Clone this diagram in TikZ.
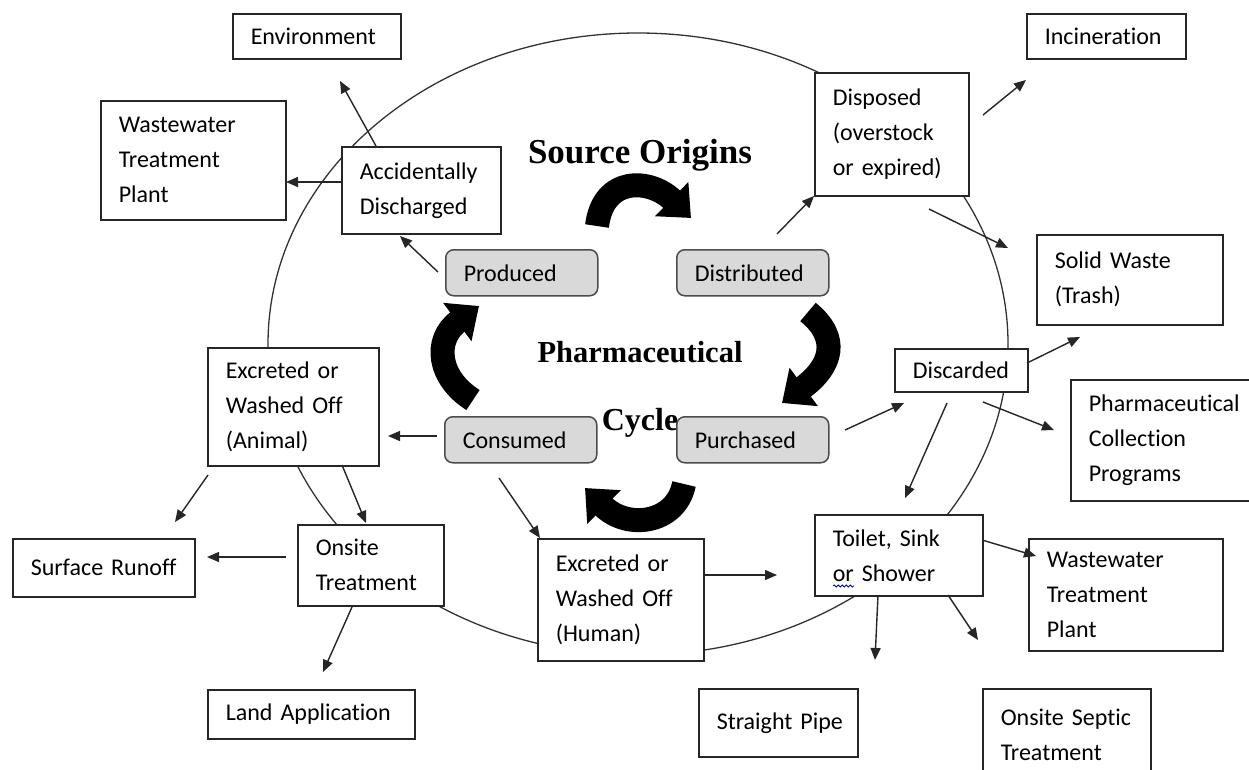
\documentclass[tikz,border=0pt]{standalone}
\usepackage{fontspec}
\setmainfont{Carlito}[Ligatures=NoCommon]
\newfontfamily\tnr{Liberation Serif}
\usetikzlibrary{arrows.meta,decorations.pathmorphing}
\tikzset{
  box/.style={draw=black!85, fill=white, line width=1.5pt, anchor=north west, align=left,
    inner xsep=18pt, inner ysep=0pt, font=\fontsize{24}{35}\selectfont},
  gbox/.style={draw=black!70, fill=gray!30, rounded corners=8pt, line width=1.5pt,
    anchor=north west, align=left, inner xsep=18pt, inner ysep=0pt,
    minimum height=46pt, text width=116pt, font=\fontsize{24}{35}\selectfont},
  arr/.style={draw=black!85, line width=1.4pt, -{Triangle[length=12pt,width=10pt]}},
  blk/.style={draw=black, line width=24pt, -{Triangle[length=27pt,width=46pt]}},
  title/.style={font=\tnr\bfseries, anchor=base, inner sep=0pt},
}
\begin{document}
\begin{tikzpicture}[x=1pt,y=-1pt]
\useasboundingbox[fill=white] (0,0) rectangle (1249,769);
% big cycle ellipse
\draw[line width=1.3pt, black!80] (638,344) ellipse [x radius=370, y radius=311];

% titles
\node[title, font=\tnr\bfseries\fontsize{35}{38}\selectfont] (src) at (640,163) {Source Origins};
\node[title, font=\tnr\bfseries\fontsize{30.5}{34}\selectfont] (pha) at (640,362) {Pharmaceutical};
\node[title, font=\tnr\bfseries\fontsize{32}{34}\selectfont] (cyc) at (640,430) {Cycle};

% grey cycle boxes
\node[gbox] (prod) at (445,249) {Produced};
\node[gbox] (dist) at (676,249) {Distributed};
\node[gbox] (purch) at (676,416) {Purchased};
\node[gbox] (cons) at (444,416) {Consumed};

% white boxes
\node[box, text width=132pt, minimum height=45pt] (env) at (232,13) {Environment};
\node[box, text width=149pt, minimum height=119pt] (wwtpL) at (100,100) {Wastewater\\Treatment\\Plant};
\node[box, text width=123pt, minimum height=87pt] (acc) at (341,146) {Accidentally\\Discharged};
\node[box, text width=123pt, minimum height=45pt] (inc) at (1026,13) {Incineration};
\node[box, text width=118pt, minimum height=123pt] (disp) at (814,72) {Disposed\\(overstock\\or~expired)};
\node[box, text width=150pt, minimum height=90pt] (solid) at (1036,234) {Solid~Waste\\(Trash)};
\node[box, text width=97pt, minimum height=43pt] (disc) at (894,348) {Discarded};
\node[box, text width=144pt, minimum height=121pt] (pcp) at (1070,379) {Pharmaceutical\\Collection\\Programs};
\node[box, text width=132pt, minimum height=81pt] (toilet) at (814,514) {Toilet,~Sink\\or~Shower};
\node[box, text width=158pt, minimum height=112pt] (wwtpR) at (1028,538) {Wastewater\\Treatment\\Plant};
\node[box, text width=123pt, minimum height=68pt] (pipe) at (698,688) {Straight~Pipe};
\node[box, text width=132pt, minimum height=92pt] (septic) at (982,688) {Onsite~Septic\\Treatment};
\node[box, text width=130pt, minimum height=122pt] (human) at (537,538) {Excreted~or\\Washed~Off\\(Human)};
\node[box, text width=110pt, minimum height=81pt] (onsite) at (297,524) {Onsite\\Treatment};
\node[box, text width=146pt, minimum height=58pt] (surf) at (12,538) {Surface~Runoff};
\node[box, text width=171pt, minimum height=49pt] (land) at (207,689) {Land~Application};
\node[box, text width=135pt, minimum height=118pt] (animal) at (207,347) {Excreted~or\\Washed~Off\\(Animal)};

% spell-check squiggle under "or"
\draw[blue!70!black, line width=0.8pt, decorate, decoration={snake, amplitude=1pt, segment length=4pt}] (833,586) -- (854,586);

% curved block arrows of the cycle
\coordinate (b1s) at (597,226); \coordinate (b1e) at (691,218);
\draw[blk] (b1s) .. controls (603,176) and (650,178) .. (b1e);
\coordinate (b2s) at (808,312); \coordinate (b2e) at (782,403);
\draw[blk] (b2s) .. controls (840,338) and (832,366) .. (b2e);
\coordinate (b3s) at (684,484); \coordinate (b3e) at (585,488);
\draw[blk] (b3s) .. controls (676,524) and (627,530) .. (b3e);
\coordinate (b4s) at (473,400); \coordinate (b4e) at (479,306);
\draw[blk] (b4s) .. controls (438,378) and (433,340) .. (b4e);

% thin arrows
\coordinate (a1) at (438,272); \coordinate (a1t) at (400,236);
\draw[arr] (a1) -- (a1t);
\coordinate (a2) at (376,146); \coordinate (a2t) at (340,81);
\draw[arr] (a2) -- (a2t);
\coordinate (a3) at (341,182); \coordinate (a3t) at (286,182);
\draw[arr] (a3) -- (a3t);
\coordinate (a4) at (777,234); \coordinate (a4t) at (814,196);
\draw[arr] (a4) -- (a4t);
\coordinate (a5) at (983,115); \coordinate (a5t) at (1026,80);
\draw[arr] (a5) -- (a5t);
\coordinate (a6) at (929,209); \coordinate (a6t) at (1008,248);
\draw[arr] (a6) -- (a6t);
\coordinate (a7) at (845,430); \coordinate (a7t) at (904,403);
\draw[arr] (a7) -- (a7t);
\coordinate (a8) at (1027,363); \coordinate (a8t) at (1080,337);
\draw[arr] (a8) -- (a8t);
\coordinate (a9) at (983,402); \coordinate (a9t) at (1054,430);
\draw[arr] (a9) -- (a9t);
\coordinate (a10) at (947,403); \coordinate (a10t) at (905,498);
\draw[arr] (a10) -- (a10t);
\coordinate (a11) at (982,540); \coordinate (a11t) at (1036,556);
\draw[arr] (a11) -- (a11t);
\coordinate (a12) at (878,595); \coordinate (a12t) at (875,660);
\draw[arr] (a12) -- (a12t);
\coordinate (a13) at (948,595); \coordinate (a13t) at (978,640);
\draw[arr] (a13) -- (a13t);
\coordinate (a14) at (703,575); \coordinate (a14t) at (777,575);
\draw[arr] (a14) -- (a14t);
\coordinate (a15) at (499,478); \coordinate (a15t) at (540,538);
\draw[arr] (a15) -- (a15t);
\coordinate (a16) at (437,436); \coordinate (a16t) at (388,436);
\draw[arr] (a16) -- (a16t);
\coordinate (a17) at (342,465); \coordinate (a17t) at (366,523);
\draw[arr] (a17) -- (a17t);
\coordinate (a18) at (208,475); \coordinate (a18t) at (175,522);
\draw[arr] (a18) -- (a18t);
\coordinate (a19) at (286,557); \coordinate (a19t) at (207,557);
\draw[arr] (a19) -- (a19t);
\coordinate (a20) at (352,607); \coordinate (a20t) at (323,672);
\draw[arr] (a20) -- (a20t);
\end{tikzpicture}
\end{document}
